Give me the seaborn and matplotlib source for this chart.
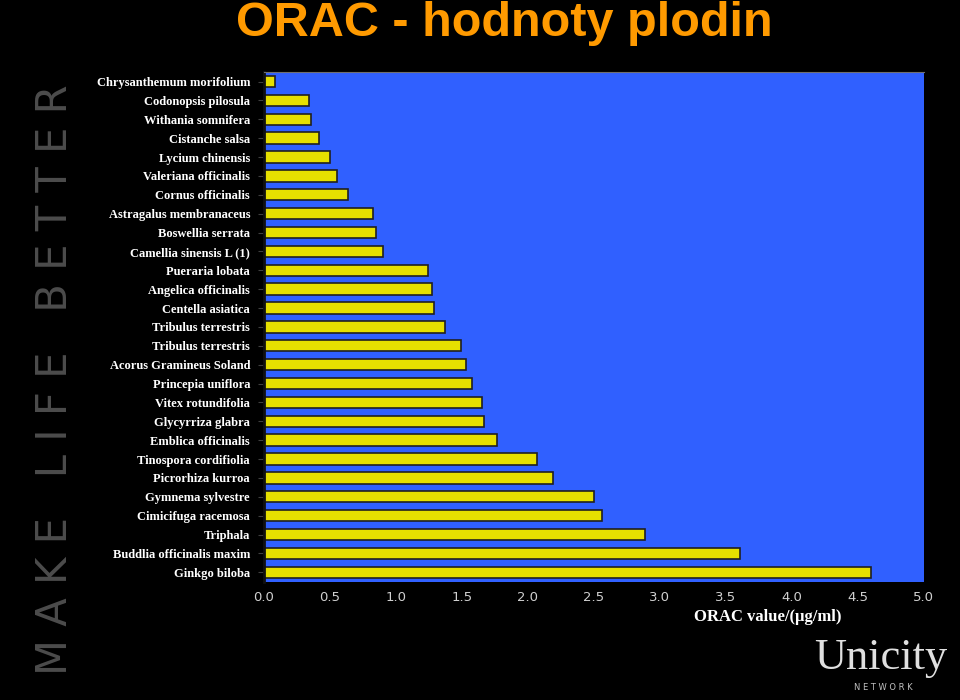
import pandas as pd
import numpy as np
import seaborn as sns
import matplotlib.pyplot as plt

plants = ["Chrysanthemum morifolium", "Codonopsis pilosula", "Withania somnifera",
          "Cistanche salsa", "Lycium chinensis", "Valeriana officinalis",
          "Cornus officinalis", "Astragalus membranaceus", "Boswellia serrata",
          "Camellia sinensis L (1)", "Pueraria lobata", "Angelica officinalis",
          "Centella asiatica", "Tribulus terrestris", "Tribulus terrestris ",
          "Acorus Gramineus Soland", "Princepia uniflora", "Vitex rotundifolia",
          "Glycyrriza glabra", "Emblica officinalis", "Tinospora cordifiolia",
          "Picrorhiza kurroa", "Gymnema sylvestre", "Cimicifuga racemosa",
          "Triphala", "Buddlia officinalis maxim", "Ginkgo biloba"]
orac = [0.08, 0.34, 0.36, 0.42, 0.50, 0.55, 0.64, 0.83, 0.85, 0.90,
        1.24, 1.27, 1.29, 1.37, 1.49, 1.53, 1.58, 1.65, 1.67, 1.77,
        2.07, 2.19, 2.50, 2.56, 2.89, 3.61, 4.60]
xticks = np.arange(0, 5.01, 0.5)

df = pd.DataFrame({"plant": plants, "orac": orac})

sns.set_style("dark")
fig = plt.figure(figsize=(9.6, 7), dpi=100, facecolor="black")
ax = fig.add_axes([0.275, 0.169, 0.687, 0.728])
ax.set_facecolor("#3060ff")

sns.barplot(data=df, x="orac", y="plant", orient="h", color="#e6e000",
            edgecolor="#202020", linewidth=1.2, width=0.6, saturation=1, ax=ax)

ax.set_xlim(0, 5)
ax.set_xticks(xticks)
ax.set_xticklabels([f"{t:.1f}" for t in xticks], color="#d0d0d0",
                   fontsize=9.5, family="DejaVu Sans")
ax.set_yticks(range(len(plants)))
ax.set_yticklabels([p.strip() for p in plants], color="white", fontsize=9,
                   family="Liberation Serif", fontweight="bold")
ax.tick_params(axis="y", length=4, color="#404040", left=True, pad=6)
ax.tick_params(axis="x", length=0, pad=7)
ax.set_xlabel("")
ax.set_ylabel("")
ax.grid(False)
for s in ["bottom", "right"]:
    ax.spines[s].set_visible(False)
ax.spines["top"].set_color("#707070")
ax.spines["left"].set_color("#101010")
ax.spines["left"].set_linewidth(2)

fig.text(0.80, 0.118, "ORAC value/(\u00b5g/ml)", color="white", fontsize=12,
         family="Liberation Serif", fontweight="bold", ha="center", va="center")
fig.text(0.525, 0.967, "ORAC - hodnoty plodin", color="#ff9a00", fontsize=35,
         fontweight="bold", family="Liberation Sans", ha="center", va="center")
fig.text(0.057, 0.457, "M A K E   L I F E   B E T T E R", color="#4c4c4c",
         fontsize=30, family="DejaVu Sans", rotation=90, ha="center", va="center")
fig.text(0.917, 0.06, "Unicity", color="#e0e0e0", fontsize=32,
         family="Liberation Serif", ha="center", va="center")
fig.text(0.92, 0.012, "N E T W O R K", color="#c0c0c0", fontsize=6,
         ha="center", va="bottom")

fig.savefig("out.png", dpi=100, facecolor="black")
